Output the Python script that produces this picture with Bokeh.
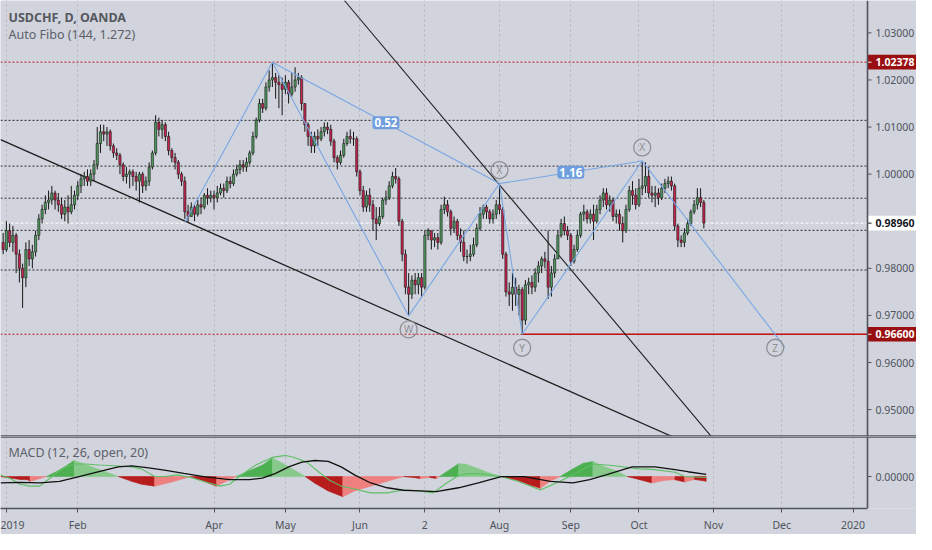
from bokeh.plotting import figure
from bokeh.models import Range1d, FixedTicker, Label, ColumnDataSource, Span
from bokeh.layouts import column
from bokeh.embed import file_html
from bokeh.resources import INLINE
from bokeh.core.properties import value

# ---------------- data ----------------
bar_idx = list(range(-1, 216))
first_open = 0.9855
close = [0.9840, 0.9880, 0.9855, 0.9870, 0.9830, 0.9800, 0.9780, 0.9840, 0.9820, 0.9835,
         0.9870, 0.9905, 0.9925, 0.9940, 0.9945, 0.9960, 0.9945, 0.9935, 0.9915, 0.9930,
         0.9920, 0.9935, 0.9955, 0.9975, 0.9990, 0.9995, 0.9985, 1.0000, 1.0020, 1.0065,
         1.0090, 1.0085, 1.0090, 1.0060, 1.0045, 1.0040, 1.0020, 0.9995, 1.0000, 1.0005,
         0.9995, 0.9985, 1.0000, 0.9975, 0.9985, 1.0015, 1.0045, 1.0110, 1.0095, 1.0105,
         1.0080, 1.0050, 1.0035, 1.0025, 1.0000, 0.9985, 0.9920, 0.9910, 0.9930, 0.9915,
         0.9935, 0.9930, 0.9955, 0.9950, 0.9955, 0.9950, 0.9960, 0.9970, 0.9965, 0.9985,
         0.9980, 1.0000, 1.0010, 1.0020, 1.0015, 1.0025, 1.0045, 1.0080, 1.0115, 1.0150,
         1.0140, 1.0185, 1.0200, 1.0205, 1.0195, 1.0190, 1.0180, 1.0195, 1.0170, 1.0185,
         1.0200, 1.0205, 1.0150, 1.0105, 1.0080, 1.0060, 1.0080, 1.0075, 1.0090, 1.0100,
         1.0095, 1.0070, 1.0035, 1.0025, 1.0040, 1.0065, 1.0080, 1.0075, 1.0075, 1.0005,
         0.9965, 0.9930, 0.9955, 0.9935, 0.9905, 0.9895, 0.9910, 0.9945, 0.9950, 0.9975,
         0.9995, 0.9990, 0.9900, 0.9830, 0.9760, 0.9745, 0.9775, 0.9765, 0.9780, 0.9760,
         0.9870, 0.9880, 0.9860, 0.9865, 0.9855, 0.9925, 0.9935, 0.9920, 0.9885, 0.9900,
         0.9870, 0.9855, 0.9825, 0.9825, 0.9830, 0.9850, 0.9885, 0.9915, 0.9930, 0.9920,
         0.9905, 0.9915, 0.9935, 0.9925, 0.9830, 0.9750, 0.9745, 0.9760, 0.9745, 0.9755,
         0.9690, 0.9765, 0.9770, 0.9760, 0.9790, 0.9805, 0.9820, 0.9815, 0.9760, 0.9790,
         0.9820, 0.9870, 0.9895, 0.9880, 0.9870, 0.9815, 0.9840, 0.9870, 0.9915, 0.9920,
         0.9905, 0.9915, 0.9900, 0.9925, 0.9945, 0.9960, 0.9935, 0.9945, 0.9910, 0.9915,
         0.9895, 0.9880, 0.9925, 0.9965, 0.9955, 0.9935, 0.9970, 0.9975, 0.9995, 0.9960,
         0.9955, 0.9960, 0.9950, 0.9970, 0.9980, 0.9985, 0.9975, 0.9890, 0.9860, 0.9855,
         0.9875, 0.9895, 0.9920, 0.9935, 0.9950, 0.9940, 0.9896]
high = [0.9875, 0.9900, 0.9895, 0.9890, 0.9875, 0.9840, 0.9810, 0.9855, 0.9860, 0.9850,
        0.9880, 0.9915, 0.9935, 0.9955, 0.9965, 0.9975, 0.9965, 0.9960, 0.9950, 0.9945,
        0.9955, 0.9975, 0.9965, 0.9985, 1.0000, 1.0005, 1.0010, 1.0010, 1.0030, 1.0100,
        1.0105, 1.0105, 1.0100, 1.0095, 1.0065, 1.0055, 1.0045, 1.0025, 1.0015, 1.0010,
        1.0010, 1.0005, 1.0005, 1.0005, 0.9995, 1.0025, 1.0050, 1.0125, 1.0120, 1.0115,
        1.0110, 1.0090, 1.0055, 1.0045, 1.0030, 1.0005, 0.9995, 0.9935, 0.9940, 0.9935,
        0.9945, 0.9950, 0.9960, 0.9970, 0.9965, 0.9965, 0.9975, 0.9980, 0.9980, 0.9995,
        0.9995, 1.0010, 1.0020, 1.0030, 1.0030, 1.0035, 1.0050, 1.0090, 1.0120, 1.0160,
        1.0160, 1.0195, 1.0220, 1.02378, 1.0215, 1.0210, 1.0205, 1.0210, 1.0200, 1.0215,
        1.0227, 1.0215, 1.0210, 1.0150, 1.0110, 1.0090, 1.0090, 1.0095, 1.0100, 1.0110,
        1.0110, 1.0105, 1.0075, 1.0040, 1.0050, 1.0075, 1.0090, 1.0095, 1.0090, 1.0080,
        1.0010, 0.9975, 0.9965, 0.9970, 0.9945, 0.9930, 0.9930, 0.9950, 0.9965, 0.9985,
        1.0005, 1.0013, 0.9995, 0.9905, 0.9840, 0.9790, 0.9785, 0.9790, 0.9790, 0.9790,
        0.9880, 0.9885, 0.9880, 0.9875, 0.9875, 0.9935, 0.9952, 0.9945, 0.9925, 0.9910,
        0.9905, 0.9885, 0.9880, 0.9840, 0.9850, 0.9865, 0.9895, 0.9930, 0.9935, 0.9935,
        0.9925, 0.9925, 0.9945, 0.9980, 0.9930, 0.9835, 0.9770, 0.9790, 0.9780, 0.9765,
        0.9760, 0.9775, 0.9780, 0.9785, 0.9800, 0.9815, 0.9825, 0.9835, 0.9880, 0.9805,
        0.9830, 0.9880, 0.9905, 0.9910, 0.9890, 0.9875, 0.9850, 0.9880, 0.9920, 0.9935,
        0.9925, 0.9925, 0.9935, 0.9935, 0.9955, 0.9970, 0.9970, 0.9955, 0.9950, 0.9925,
        0.9925, 0.9910, 0.9935, 0.9975, 0.9985, 0.9970, 0.9990, 1.0028, 1.0025, 1.0015,
        0.9975, 0.9975, 0.9970, 0.9980, 0.9990, 0.9995, 0.9995, 0.9980, 0.9895, 0.9870,
        0.9885, 0.9905, 0.9925, 0.9945, 0.9970, 0.9970, 0.9945]
low = [0.9830, 0.9835, 0.9845, 0.9835, 0.9790, 0.9770, 0.9716, 0.9760, 0.9805, 0.9800,
       0.9825, 0.9860, 0.9895, 0.9915, 0.9925, 0.9935, 0.9925, 0.9920, 0.9905, 0.9900,
       0.9895, 0.9915, 0.9925, 0.9945, 0.9960, 0.9975, 0.9975, 0.9975, 0.9985, 1.0010,
       1.0045, 1.0070, 1.0060, 1.0050, 1.0035, 1.0030, 1.0000, 0.9985, 0.9980, 0.9970,
       0.9975, 0.9965, 0.9940, 0.9960, 0.9965, 0.9975, 1.0010, 1.0040, 1.0080, 1.0075,
       1.0070, 1.0040, 1.0025, 1.0010, 0.9990, 0.9975, 0.9905, 0.9898, 0.9910, 0.9900,
       0.9910, 0.9915, 0.9925, 0.9935, 0.9940, 0.9925, 0.9940, 0.9955, 0.9950, 0.9960,
       0.9970, 0.9975, 0.9995, 1.0000, 1.0005, 1.0005, 1.0020, 1.0040, 1.0075, 1.0110,
       1.0130, 1.0135, 1.0175, 1.0185, 1.0160, 1.0140, 1.0125, 1.0170, 1.0150, 1.0165,
       1.0175, 1.0190, 1.0135, 1.0090, 1.0060, 1.0045, 1.0045, 1.0060, 1.0070, 1.0080,
       1.0085, 1.0060, 1.0025, 1.0010, 1.0020, 1.0035, 1.0060, 1.0065, 1.0060, 0.9995,
       0.9955, 0.9920, 0.9920, 0.9920, 0.9880, 0.9860, 0.9890, 0.9905, 0.9935, 0.9945,
       0.9970, 0.9980, 0.9890, 0.9815, 0.9745, 0.9699, 0.9735, 0.9745, 0.9745, 0.9740,
       0.9755, 0.9860, 0.9840, 0.9845, 0.9840, 0.9850, 0.9915, 0.9910, 0.9870, 0.9875,
       0.9860, 0.9835, 0.9815, 0.9810, 0.9815, 0.9825, 0.9845, 0.9880, 0.9905, 0.9905,
       0.9895, 0.9895, 0.9905, 0.9915, 0.9820, 0.9740, 0.9720, 0.9710, 0.9720, 0.9700,
       0.9660, 0.9680, 0.9745, 0.9745, 0.9750, 0.9770, 0.9790, 0.9800, 0.9735, 0.9740,
       0.9780, 0.9825, 0.9865, 0.9870, 0.9860, 0.9805, 0.9810, 0.9835, 0.9865, 0.9900,
       0.9895, 0.9895, 0.9860, 0.9895, 0.9915, 0.9930, 0.9925, 0.9920, 0.9900, 0.9895,
       0.9880, 0.9855, 0.9875, 0.9920, 0.9935, 0.9925, 0.9930, 0.9955, 0.9960, 0.9950,
       0.9940, 0.9930, 0.9935, 0.9945, 0.9960, 0.9970, 0.9965, 0.9880, 0.9845, 0.9845,
       0.9845, 0.9870, 0.9890, 0.9915, 0.9925, 0.9930, 0.9885]

fib_high = 1.02378
fib_low = 0.96600
fib_mid = [1.01142, 1.00171, 0.99489, 0.98807, 0.97964]
last_price = 0.98960

price_ticks = [0.95, 0.96, 0.97, 0.98, 1.00, 1.01, 1.02, 1.03]
macd_ticks = [0.0]
month_idx = [0, 22, 64, 86, 109, 129, 152, 174, 195, 218, 239, 261]
month_lab = ["2019", "Feb", "Apr", "May", "Jun", "2", "Aug", "Sep", "Oct", "Nov", "Dec", "2020"]

wave_i = [55, 82, 124, 152, 159, 196, 240]
wave_p = [0.9898, 1.02378, 0.9699, 0.9980, 0.9660, 1.0028, 0.9632]
link_from = [1, 3]
link_to = [3, 5]
link_text = ["0.52", "1.16"]
lab_text = ["W", "X", "Y", "X", "Z"]
lab_i = [124, 152, 159, 196, 237]
lab_p = [0.9699, 0.9980, 0.9660, 1.0028, 0.9660]
lab_dir = [-1, 1, -1, 1, -1]

tl1_i = [-1.82, 205.2]
tl1_p = [1.00734, 0.94429]
tl2_i = [104.2, 217.3]
tl2_p = [1.03687, 0.94429]

macd_i = [-1.8, 1.2, 4.2, 7.3, 10.3, 13.3, 16.4, 18.4, 20.9, 24.4, 28.5, 34.5, 38.6, 41.6, 45.7,
          48.7, 52.8, 56.8, 62.8, 65.8, 68.8, 71.8, 76.9, 82, 86.1, 88.5, 92.6, 96.2, 99.2,
          103.2, 107.3, 112.3, 117.4, 122.4, 127.5, 131.5, 135.6, 139.4, 142, 145.5, 152.5,
          157.6, 164.6, 170.7, 174.7, 180.8, 186.9, 194.9, 199, 206.1, 209.1, 215.7]
macd_v = [0.00034, -0.0004, -0.0016, -0.002, -0.002, -0.0004, 0.0012, 0.002, 0.0026, 0.0026,
          0.0024, 0.0022, 0.002, 0.0016, 0.0, 0.0, 0.00034, -0.0002, -0.0014, -0.002, -0.0016,
          0.0, 0.0024, 0.004, 0.0044, 0.004, 0.003, 0.001, -0.0006, -0.002, -0.0026, -0.0034,
          -0.0034, -0.0028, -0.003, -0.0034, -0.0014, 0.0002, 0.0006, 0.0006, 0.0, -0.001,
          -0.0028, -0.001, 0.0004, 0.0026, 0.0023, 0.0016, 0.0015, 0.0009, 0.0, -0.0002]
sig_i = [-1.8, 4.2, 10.3, 16.4, 22.4, 28.5, 34.5, 38.6, 43.3, 48.7, 54.7, 60.8, 64.8, 68.8, 74.9,
         78.9, 83, 87, 91.1, 95.1, 99.2, 103.2, 107.3, 112.3, 117.4, 122.4, 127.5, 132.5, 139.4,
         145.5, 152.5, 159.6, 167.7, 174.7, 179.8, 184.8, 192.9, 199.9, 206.1, 210.1, 215.7]
sig_v = [-0.00134, -0.0012, -0.00134, -0.001, 0.0, 0.001, 0.002, 0.0022, 0.00186, 0.00134,
         0.00066, 0.0, -0.00034, -0.00066, -0.00066, -0.00034, 0.00066, 0.002, 0.003, 0.00334,
         0.00314, 0.002, 0.00034, -0.00134, -0.00234, -0.00286, -0.003, -0.00314, -0.00234,
         -0.00134, 0.0, 0.0, -0.001, -0.00134, -0.00066, 0.00034, 0.002, 0.002, 0.00146, 0.001,
         0.00046]
hist_i = [-1.8, 0, 4.2, 6.5, 7.3, 8.5, 10.3, 12.3, 15.4, 18.4, 20.9, 26.4, 30.5, 34.5, 38.6,
          41.6, 45.7, 50.7, 55.8, 56.8, 60.8, 64.8, 67.8, 70.9, 74.9, 79, 82, 86.1, 90.1, 92.1,
          95.1, 99.2, 103.7, 107.3, 112.3, 117.4, 122.4, 125.5, 127.5, 130.5, 132.5, 133.5,
          136.6, 139.4, 141.4, 145.5, 149.5, 152.5, 157.6, 161.6, 164.6, 167.6, 170.7, 174.7,
          177.7, 180.8, 183.8, 187.9, 191.4, 195, 199, 203, 206.1, 209.1, 212.1, 214, 215.7]
hist_v = [0.0, -0.0002, -0.0006, -0.00066, -0.001, -0.0008, -0.0004, 0.0, 0.001, 0.0022,
          0.00334, 0.002, 0.001, 0.0, -0.001, -0.0016, -0.002, -0.0012, -0.0002, 0.0, -0.001,
          -0.002, -0.001, 0.0, 0.0012, 0.0024, 0.00386, 0.0024, 0.0008, 0.0, -0.0014, -0.003,
          -0.0042, -0.003, -0.002, -0.001, 0.0, -0.0002, -0.0004, -0.0002, -0.0004, 0.0,
          0.0014, 0.00266, 0.0026, 0.0016, 0.0006, 0.0, -0.0008, -0.0018, -0.00246, -0.001,
          0.0, 0.0016, 0.00274, 0.00314, 0.0022, 0.0012, 0.0, -0.0006, -0.00134, -0.0008,
          -0.00066, -0.00114, -0.0006, -0.0008, -0.001]

# ---------------- layout / style ----------------
BG = "#D1D4DC"
TXT = "#50535E"
AXL = "#50535E"
FONT = "Noto Sans"
UP = "#4F9A5E"
DN = "#C8234F"
BLUE = "#79A6E4"
W = 916          # whole width (frame spans it)
PW = 867         # width of the chart area left of the price scale
H1 = 436
H2F = 73
H2B = 25
X0, X1 = -1.82, 265.45
ppx = PW / (X1 - X0)
XR = X0 + W / ppx
Y0, Y1 = 0.94429, 1.03687
M0, M1 = -0.00666, 0.00834

xr = Range1d(X0, XR)


def make_fig(h, yr, bottom, xloc):
    p = figure(width=W, height=h, x_range=xr, y_range=yr, output_backend="svg",
               toolbar_location=None, y_axis_location=None, x_axis_location=xloc)
    p.min_border_left = 0
    p.min_border_top = 0
    p.min_border_right = 0
    p.min_border_bottom = bottom
    p.background_fill_color = BG
    p.border_fill_color = BG
    p.outline_line_color = None
    p.ygrid.visible = False
    p.xgrid.ticker = FixedTicker(ticks=month_idx)
    p.xgrid.grid_line_color = "#B3B6BF"
    p.xgrid.grid_line_dash = "2 3"
    p.xgrid.grid_line_width = 1
    return p


def price_scale(p, ticks, ylo, yhi, tags, ppy):
    n = len(ticks)
    for pv, bg, fg in tags:
        p.quad(left=[X1], right=[XR], bottom=[pv - 7.3 / ppy], top=[pv + 7.3 / ppy],
               fill_color=bg, line_color=None)
    p.segment(x0=[X1] * n, y0=ticks, x1=[X1 + 4 / ppx] * n, y1=ticks, line_color=AXL, line_width=1)
    p.text(x=[X1 + 8 / ppx] * n, y=ticks, text=["%.5f" % t for t in ticks],
           text_align="left", text_baseline="middle", text_font=value(FONT),
           text_font_size="10.5px", text_color=TXT)
    for pv, bg, fg in tags:
        p.segment(x0=[X1], y0=[pv], x1=[X1 + 4 / ppx], y1=[pv], line_color=fg, line_width=1)
        p.text(x=[X1 + 8 / ppx], y=[pv], text=["%.5f" % pv], text_align="left",
               text_baseline="middle", text_font=value(FONT), text_font_size="10.5px",
               text_font_style="bold", text_color=fg)
    p.segment(x0=[X1], y0=[ylo], x1=[X1], y1=[yhi], line_color=AXL, line_width=1.6)


p1 = make_fig(H1, Range1d(Y0, Y1), 0, None)
ppy1 = H1 / (Y1 - Y0)

# fib levels
nf = len(fib_mid)
p1.segment(x0=[X0] * nf, y0=fib_mid, x1=[X1] * nf, y1=fib_mid, line_color="#2A2A2A",
           line_width=1, line_dash="2 2")
p1.segment(x0=[X0, X0], y0=[fib_high, fib_low], x1=[X1, X1], y1=[fib_high, fib_low],
           line_color="#B51515", line_width=1, line_dash="2 2")
p1.segment(x0=[X0], y0=[last_price], x1=[X1], y1=[last_price], line_color="#FFFFFF",
           line_width=1, line_dash="3 2")
p1.segment(x0=[wave_i[4]], y0=[fib_low], x1=[X1], y1=[fib_low], line_color="#C01515", line_width=1.3)

# trend lines
p1.line(tl1_i, tl1_p, line_color="#1E1E1E", line_width=1.3)
p1.line(tl2_i, tl2_p, line_color="#1E1E1E", line_width=1.1)

# candles
opens = [first_open] + close[:-1]
tops = [max(o, c) for o, c in zip(opens, close)]
bots = [min(o, c) for o, c in zip(opens, close)]
his = [max(h, t) for h, t in zip(high, tops)]
los = [min(l, b) for l, b in zip(low, bots)]
cols = [UP if c >= o else DN for o, c in zip(opens, close)]
src = ColumnDataSource(dict(x=bar_idx, top=tops, bottom=bots, hi=his, lo=los, color=cols))
p1.segment(x0="x", y0="hi", x1="x", y1="lo", source=src, line_color="#151515", line_width=1)
p1.vbar(x="x", width=0.68, top="top", bottom="bottom", source=src,
        fill_color="color", line_color="#1A1A1A", line_width=0.6)

# zigzag
p1.line(wave_i, wave_p, line_color=BLUE, line_width=1.1)
p1.segment(x0=[wave_i[a] for a in link_from], y0=[wave_p[a] for a in link_from],
           x1=[wave_i[b] for b in link_to], y1=[wave_p[b] for b in link_to],
           line_color=BLUE, line_width=1.1)
for a, b, t in zip(link_from, link_to, link_text):
    p1.add_layout(Label(x=(wave_i[a] + wave_i[b]) / 2, y=(wave_p[a] + wave_p[b]) / 2, text=t,
                        text_align="center", text_baseline="middle", text_color="white",
                        text_font=FONT, text_font_size="11.5px", text_font_style="bold",
                        background_fill_color="#6F9FDF", padding=2, border_radius=3))

cy = [p + d * 13.5 / ppy1 for p, d in zip(lab_p, lab_dir)]
p1.scatter(x=lab_i, y=cy, marker="circle", size=17, fill_color=None,
           line_color="#8E8F94", line_width=1.3)
p1.text(x=lab_i, y=cy, text=lab_text, text_align="center", text_baseline="middle",
        text_font=value(FONT), text_font_size="10px", text_color="#8E8F94")

# titles
p1.add_layout(Label(x=8, y=H1 - 17, x_units="screen", y_units="screen", text="USDCHF, D, OANDA",
                    text_font=FONT, text_font_size="12.5px", text_font_style="bold",
                    text_color="#55585F", text_baseline="middle"))
p1.add_layout(Label(x=8, y=H1 - 34, x_units="screen", y_units="screen", text="Auto Fibo (144, 1.272)",
                    text_font=FONT, text_font_size="12.5px", text_color="#5D606B",
                    text_baseline="middle"))

price_scale(p1, price_ticks, Y0, Y1,
            [(fib_high, "#990F0F", "#FFFFFF"), (last_price, "#FFFFFF", "#131722"),
             (fib_low, "#990F0F", "#FFFFFF")], ppy1)
p1.add_layout(Span(location=Y0, dimension="width", line_color=AXL, line_width=2.5))

# ---------------- MACD pane ----------------
p2 = make_fig(H2F + H2B, Range1d(M0, M1), H2B, "below")
bx = p2.xaxis[0]
bx.ticker = FixedTicker(ticks=month_idx)
bx.major_label_overrides = {k: v for k, v in zip(month_idx, month_lab)}
bx.major_label_text_font = FONT
bx.major_label_text_font_size = "10.5px"
bx.major_label_text_color = TXT
bx.major_tick_out = 4
bx.major_tick_in = 0
bx.minor_tick_out = 0
bx.minor_tick_in = 0
bx.major_tick_line_color = AXL
bx.axis_line_color = AXL
bx.axis_line_width = 1.5
bx.major_label_standoff = 5
bx.bounds = (X0, X1)

DG, LG, DR, LR = "#4CAF50", "#86C98A", "#B71C1C", "#EF8080"
pxs, pys, pcs = [], [], []
for k in range(len(hist_i) - 1):
    a, b = hist_v[k], hist_v[k + 1]
    grow = abs(b) >= abs(a)
    if a + b >= 0:
        c = DG if grow else LG
    else:
        c = DR if grow else LR
    pxs.append([hist_i[k], hist_i[k], hist_i[k + 1], hist_i[k + 1]])
    pys.append([0, a, b, 0])
    pcs.append(c)
p2.patches(pxs, pys, fill_color=pcs, line_color=pcs, line_width=0.6)
p2.line(macd_i, macd_v, line_color="#5FBF65", line_width=1.1)
p2.line(sig_i, sig_v, line_color="#111111", line_width=1.3)
price_scale(p2, macd_ticks, M0, M1, [], H2F / (M1 - M0))
p2.add_layout(Span(location=M1, dimension="width", line_color=AXL, line_width=2.5))
p2.add_layout(Label(x=8, y=H2F - 16.5, x_units="screen", y_units="screen",
                    text="MACD (12, 26, open, 20)", text_font=FONT, text_font_size="12.5px",
                    text_color="#5D606B", text_baseline="middle"))

layout = column(p1, p2)
open("out.html", "w").write(file_html(layout, INLINE))
